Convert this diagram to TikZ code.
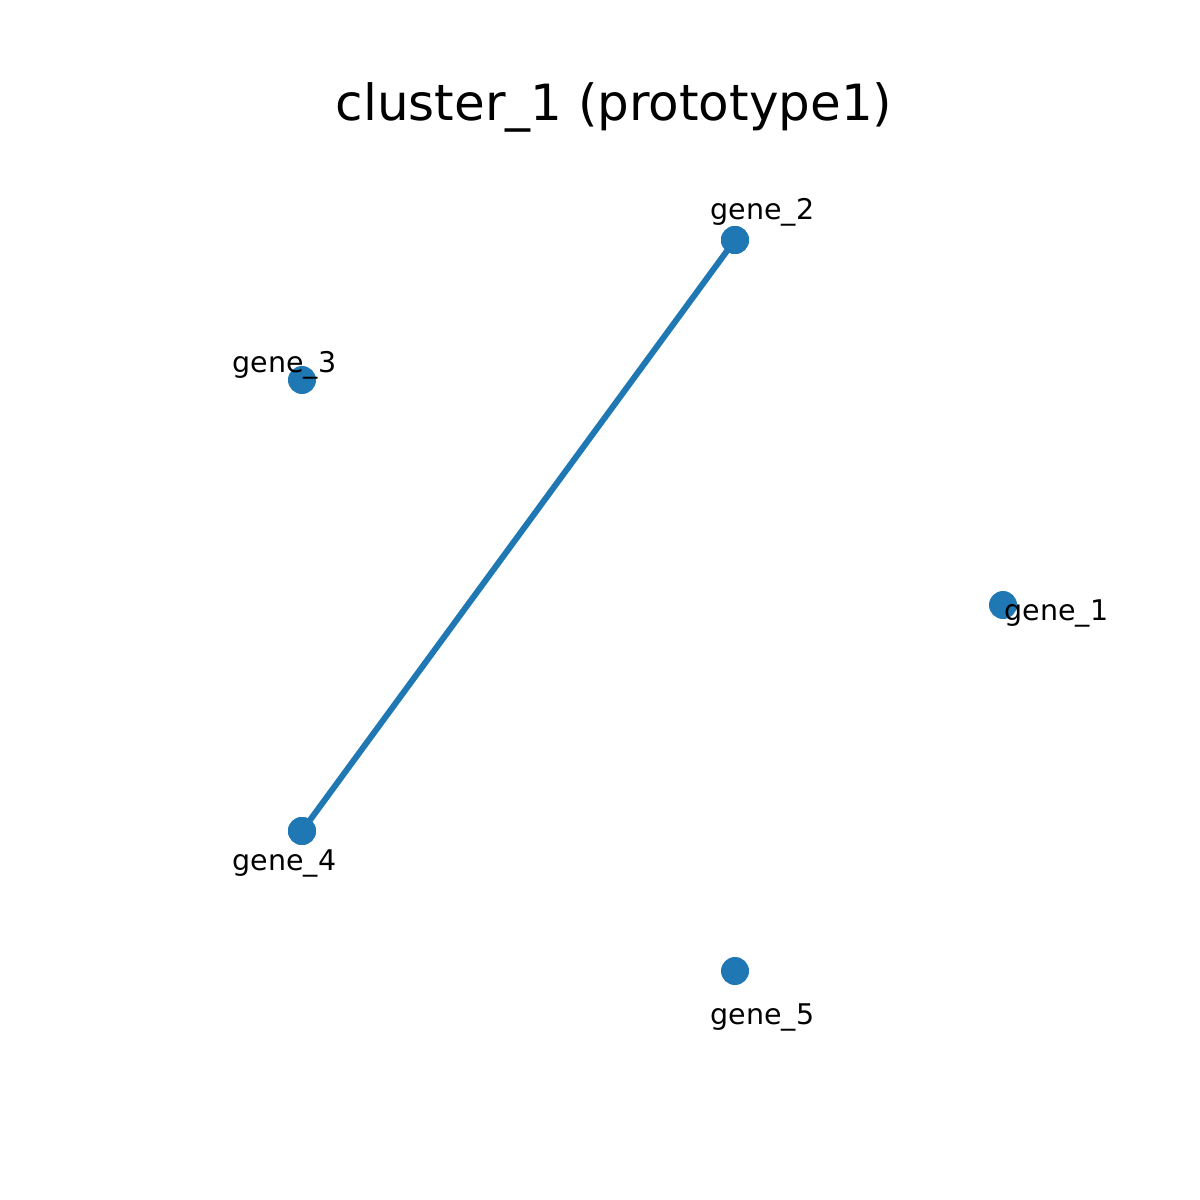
\documentclass[tikz,border=0pt]{standalone}
\usepackage{fontspec}
\setmainfont{DejaVu Sans}
\definecolor{tabblue}{HTML}{1F77B4}
\begin{document}
\begin{tikzpicture}[x=0.01cm,y=-0.01cm,
  gene/.style={circle,fill=tabblue,draw=none,minimum size=0.28cm,inner sep=0pt},
  lbl/.style={anchor=base west,inner sep=0pt,font=\fontsize{8.1pt}{9pt}\selectfont},
  edge/.style={draw=tabblue,line width=1.7pt}]
\useasboundingbox (0,0) rectangle (1200,1200);
\node[anchor=base,inner sep=0pt,font=\fontsize{14.2pt}{17pt}\selectfont] (title) at (614,120) {cluster\_1 (prototype1)};
\node[gene] (g1) at (1003,605) {};
\node[gene] (g2) at (735,240) {};
\node[gene] (g3) at (302,380) {};
\node[gene] (g4) at (302,831) {};
\node[gene] (g5) at (735,971) {};
\draw[edge] (g2.center) -- (g4.center);
\node[gene] at (g2) {};
\node[gene] at (g4) {};
\node[lbl] (l2) at (710,219) {gene\_2};
\node[lbl] (l3) at (232,372) {gene\_3};
\node[lbl] (l1) at (1004,620) {gene\_1};
\node[lbl] (l4) at (232,870) {gene\_4};
\node[lbl] (l5) at (710,1024) {gene\_5};
\end{tikzpicture}
\end{document}
